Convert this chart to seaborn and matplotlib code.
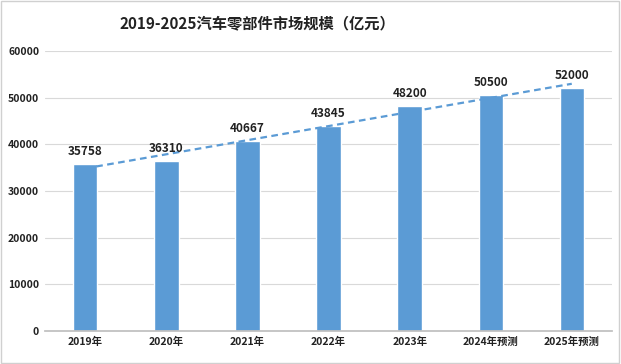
import matplotlib
matplotlib.use("Agg")
import matplotlib.pyplot as plt
import seaborn as sns
import pandas as pd
import numpy as np
from matplotlib.patches import Rectangle

categories = ["2019年", "2020年", "2021年", "2022年", "2023年", "2024年预测", "2025年预测"]
values = [35758, 36310, 40667, 43845, 48200, 50500, 52000]
yticks = [0, 10000, 20000, 30000, 40000, 50000, 60000]

sns.set_theme(style="white")
plt.rcParams['font.family'] = ['Noto Sans CJK SC', 'DejaVu Sans']

df = pd.DataFrame({"cat": categories, "val": values, "x": np.arange(len(categories))})

fig = plt.figure(figsize=(6.21, 3.64), dpi=100)
ax = fig.add_axes([0.072, 0.091, 0.914, 0.769])

sns.barplot(data=df, x="cat", y="val", color="#5B9BD5", width=0.3, saturation=1, ax=ax, zorder=2)
sns.regplot(data=df, x="x", y="val", scatter=False, ci=None, ax=ax, truncate=True,
            line_kws=dict(color="#5B9BD5", linestyle=(0, (3, 2)), linewidth=1.6, zorder=3))

for i, v in enumerate(values):
    ax.text(i, v + 1300, str(v), ha="center", va="bottom", fontsize=8.5, fontweight="bold", color="#222222")

ax.set_ylim(0, 60000)
ax.set_xlim(-0.5, len(categories) - 0.5)
ax.set_yticks(yticks)
ax.set_yticklabels([str(t) for t in yticks], fontsize=7.5, fontweight="bold", color="#222222")
ax.set_xticks(range(len(categories)))
ax.set_xticklabels(categories, fontsize=7.5, fontweight="bold", color="#222222")
ax.set_xlabel("")
ax.set_ylabel("")
ax.yaxis.grid(True, color="#D9D9D9", linewidth=0.8, zorder=0)
ax.set_axisbelow(True)
for s in ["top", "right", "left"]:
    ax.spines[s].set_visible(False)
ax.spines["bottom"].set_color("#BFBFBF")
ax.tick_params(axis="both", length=0, pad=4)

fig.text(0.414, 0.937, "2019-2025汽车零部件市场规模（亿元）", ha="center", va="center",
         fontsize=11, fontweight="bold", color="#222222")

fig.patches.append(Rectangle((0.002, 0.003), 0.995, 0.993, transform=fig.transFigure,
                             fill=False, edgecolor="#D0D0D0", linewidth=1))

fig.savefig("out.png", dpi=100)
